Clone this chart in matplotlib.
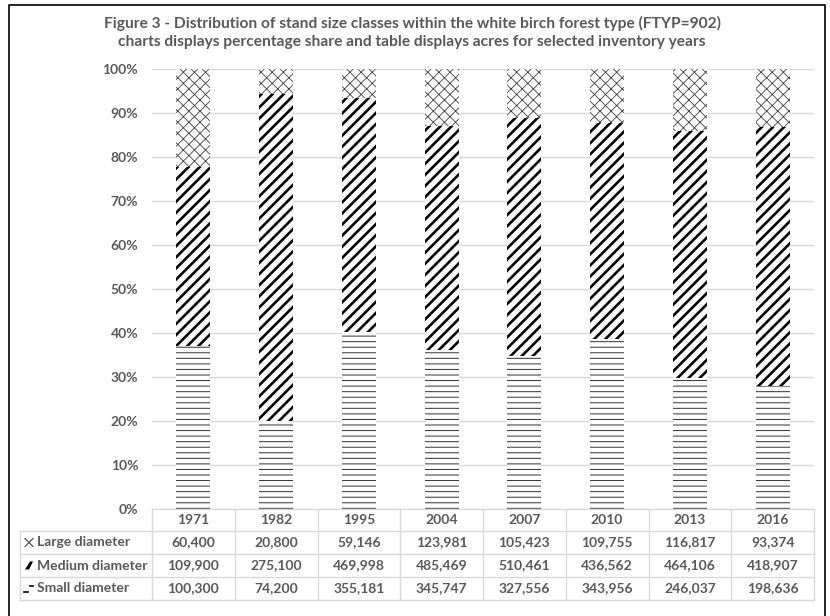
import numpy as np
import matplotlib
matplotlib.use("Agg")
import matplotlib.pyplot as plt
from matplotlib.patches import Polygon
from matplotlib.lines import Line2D

# data (acres)
years = ["1971", "1982", "1995", "2004", "2007", "2010", "2013", "2016"]
large = [60400, 20800, 59146, 123981, 105423, 109755, 116817, 93374]
medium = [109900, 275100, 469998, 485469, 510461, 436562, 464106, 418907]
small = [100300, 74200, 355181, 345747, 327556, 343956, 246037, 198636]
row_names = ["Large diameter", "Medium diameter", "Small diameter"]

title = ("Figure 3 - Distribution of stand size classes within the white birch forest type (FTYP=902)\n"
         "charts displays percentage share and table displays acres for selected inventory years")

W, H = 830, 616
TXT = "#595959"
GRID = "#d9d9d9"
plt.rcParams['font.family'] = ['Lato', 'DejaVu Sans']
plt.rcParams['font.weight'] = 'bold'


def fx(px):
    return px / W


def fy(py):
    return 1 - py / H


# styles for each series: hatch, hatch colour, hatch line width
styles = {
    "Small diameter": ("---", "#303030", 0.7),
    "Medium diameter": ("///", "black", 1.9),
    "Large diameter": ("xxx", "#404040", 0.6),
}

tot = np.array(large) + np.array(medium) + np.array(small)
shares = {
    "Small diameter": np.array(small) / tot,
    "Medium diameter": np.array(medium) / tot,
    "Large diameter": np.array(large) / tot,
}

fig = plt.figure(figsize=(W / 100, H / 100), dpi=100)
ax_left, ax_right, ax_top, ax_bot = 152, 814, 69, 509
ax = fig.add_axes([fx(ax_left), fy(ax_bot), fx(ax_right) - fx(ax_left), (ax_bot - ax_top) / H])

x = np.arange(len(years))
bottom = np.zeros(len(years))
for name in ["Small diameter", "Medium diameter", "Large diameter"]:
    hatch, col, hlw = styles[name]
    with plt.rc_context({'hatch.linewidth': hlw}):
        bars = ax.bar(x, shares[name], 0.41, bottom=bottom, color="white",
                      edgecolor=col, hatch=hatch, linewidth=0, zorder=2)
    for b in bars:
        if hasattr(b, "set_hatch_linewidth"):
            b.set_hatch_linewidth(hlw)
    bottom += shares[name]

ax.set_xlim(-0.5, len(years) - 0.5)
ax.set_ylim(0, 1)
ax.set_yticks(np.arange(0, 1.01, 0.1))
ax.set_yticklabels([f"{int(round(v * 100))}%" for v in np.arange(0, 1.01, 0.1)],
                   fontsize=10, color=TXT, fontweight='bold')
ax.set_xticks([])
ax.tick_params(axis='y', length=0, pad=10)
ax.yaxis.grid(True, color=GRID, linewidth=1, zorder=0)
ax.set_axisbelow(True)
for s in ax.spines.values():
    s.set_visible(False)

fig.text(fx(412), fy(32.5), title, ha="center", va="center", fontsize=11.2,
         color=TXT, fontweight='bold', linespacing=1.3)

# data table
col_w = (ax_right - ax_left) / len(years)
row_y = [509, 531, 554, 577, 600]
lab_left = 20


def hline(px0, px1, py):
    fig.add_artist(Line2D([fx(px0), fx(px1)], [fy(py), fy(py)], color=GRID, lw=1))


def vline(px, py0, py1):
    fig.add_artist(Line2D([fx(px), fx(px)], [fy(py0), fy(py1)], color=GRID, lw=1))


def seg(pts, **kw):
    fig.add_artist(Line2D([fx(p[0]) for p in pts], [fy(p[1]) for p in pts], **kw))


hline(ax_left, ax_right, row_y[0])
for py in row_y[1:]:
    hline(lab_left, ax_right, py)
for i in range(len(years) + 1):
    vline(ax_left + i * col_w, row_y[0], row_y[-1])
vline(lab_left, row_y[1], row_y[-1])

for i, yr in enumerate(years):
    fig.text(fx(ax_left + (i + 0.5) * col_w), fy((row_y[0] + row_y[1]) / 2), yr,
             ha="center", va="center", fontsize=10, color=TXT, fontweight='bold')

table_rows = [large, medium, small]
for r, (name, vals) in enumerate(zip(row_names, table_rows)):
    cy = (row_y[r + 1] + row_y[r + 2]) / 2
    # little legend keys in front of the row names
    if r == 0:
        seg([(25, cy - 4), (33, cy + 4)], color="#404040", lw=0.8)
        seg([(25, cy + 4), (33, cy - 4)], color="#404040", lw=0.8)
    elif r == 1:
        key = Polygon([(fx(25), fy(cy + 4)), (fx(29), fy(cy + 4)), (fx(33), fy(cy - 4)),
                       (fx(30), fy(cy - 4))], closed=True, transform=fig.transFigure,
                      facecolor="black", edgecolor="none")
        fig.add_artist(key)
    else:
        seg([(24, cy + 3), (28, cy + 3)], color="black", lw=1.2)
        seg([(30, cy - 3), (33, cy - 3)], color="black", lw=1.2)
    fig.text(fx(37), fy(cy), name, ha="left", va="center", fontsize=10,
             color=TXT, fontweight='bold')
    for i, v in enumerate(vals):
        fig.text(fx(ax_left + (i + 0.5) * col_w), fy(cy), f"{v:,}", ha="center",
                 va="center", fontsize=10, color=TXT, fontweight='bold')

# outer frame (bottom edge falls off the picture)
seg([(9, H + 5), (9, 5), (825, 5), (825, H + 5)], color="black", lw=1.2)

fig.savefig("out.png", dpi=100)
